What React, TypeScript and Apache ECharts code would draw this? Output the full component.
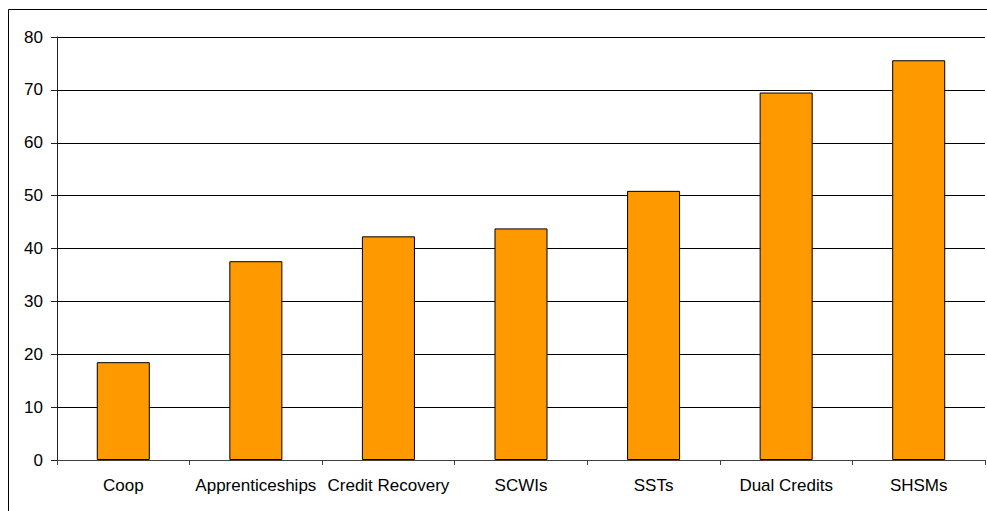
import React, { useEffect, useRef } from "react";
import * as echarts from "echarts";

const categories = [
  "Coop",
  "Apprenticeships",
  "Credit Recovery",
  "SCWIs",
  "SSTs",
  "Dual Credits",
  "SHSMs",
];
const values = [18.5, 37.6, 42.3, 43.8, 50.9, 69.5, 75.6];

const FONT = "'Liberation Sans', Arial, sans-serif";

export default function App() {
  const ref = useRef<HTMLDivElement>(null);

  useEffect(() => {
    if (!ref.current) return;
    const chart = echarts.init(ref.current, null, { renderer: "svg" });
    chart.setOption({
      animation: false,
      backgroundColor: "#ffffff",
      textStyle: { fontFamily: FONT },
      grid: { left: 57, right: 2, top: 37, bottom: 51, containLabel: false },
      graphic: [
        {
          type: "rect",
          shape: { x: 8.5, y: 9.5, width: 1000, height: 600 },
          style: { fill: "none", stroke: "#000000", lineWidth: 1 },
          silent: true,
        },
      ],
      xAxis: {
        type: "category",
        data: categories,
        boundaryGap: true,
        axisLine: { show: true, lineStyle: { color: "#404040", width: 1 } },
        axisTick: { show: true, length: 5, alignWithLabel: false, lineStyle: { color: "#404040" } },
        axisLabel: {
          color: "#000000",
          fontSize: 17,
          fontFamily: FONT,
          margin: 17,
          interval: 0,
        },
        splitLine: { show: false },
      },
      yAxis: {
        type: "value",
        min: 0,
        max: 80,
        interval: 10,
        axisLine: { show: true, lineStyle: { color: "#202020", width: 1 } },
        axisTick: { show: true, length: 6, lineStyle: { color: "#202020" } },
        axisLabel: {
          color: "#000000",
          fontSize: 17,
          fontFamily: FONT,
          margin: 14,
        },
        splitLine: { show: true, lineStyle: { color: "#000000", width: 1 } },
      },
      series: [
        {
          type: "bar",
          data: values,
          barWidth: "40%",
          itemStyle: {
            color: "#ff9900",
            borderColor: "#000000",
            borderWidth: 1,
          },
        },
      ],
    });
    return () => chart.dispose();
  }, []);

  return (
    <div
      ref={ref}
      style={{ position: "fixed", left: 0, top: 0, width: 987, height: 511 }}
    />
  );
}
